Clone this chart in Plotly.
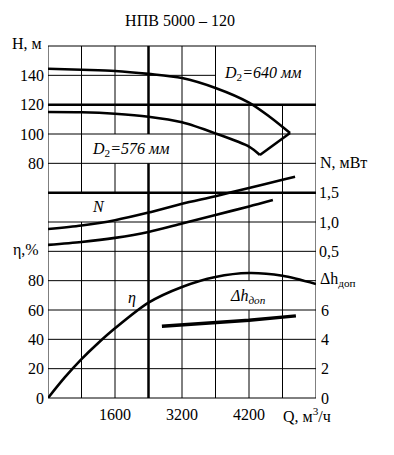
import plotly.graph_objects as go

# ---- data (Q in m3/h) ----
q_h640 = [0, 800, 1600, 2400, 3200, 4000, 4800, 5300, 5780]
h_640 = [144.5, 143.8, 143.0, 141.0, 138.2, 131.4, 121.4, 111.6, 100.7]

q_h576 = [0, 800, 1600, 2400, 3200, 4000, 4800, 5060]
h_576 = [115.0, 114.8, 113.8, 111.8, 108.0, 100.4, 91.4, 85.7]

q_n1 = [0, 800, 1600, 2400, 3200, 4000, 4800, 5600, 5900]
n_1 = [0.88, 0.94, 1.03, 1.16, 1.31, 1.44, 1.58, 1.72, 1.77]

q_n2 = [0, 800, 1600, 2400, 3200, 4000, 4800, 5370]
n_2 = [0.61, 0.66, 0.73, 0.83, 0.975, 1.12, 1.265, 1.375]

q_eta = [0, 400, 800, 1200, 1600, 2400, 3200, 4000, 4800, 5600, 6400]
eta = [0, 14, 26.5, 37.5, 47.5, 65.0, 75.7, 82.5, 85.2, 83.3, 77.7]

q_dh = [2720, 4800, 5920]
dh = [4.9, 5.3, 5.6]

x_tickvals = [1600, 3200, 4800]
x_ticktext = ["1600", "3200", "4200"]
h_ticks = [80, 100, 120, 140]
eta_ticks = [0, 20, 40, 60, 80]
n_ticks = [0.5, 1.0, 1.5]
n_ticktext = ["0,5", "1,0", "1,5"]
dh_ticks = [0, 2, 4, 6]

FONT = "Liberation Serif"
LW = 2.6

fig = go.Figure()
line = dict(color="black", width=LW, shape="spline", smoothing=0.8)
fig.add_trace(go.Scatter(x=q_h640, y=h_640, mode="lines", line=line, yaxis="y"))
fig.add_trace(go.Scatter(x=q_h576, y=h_576, mode="lines", line=line, yaxis="y"))
fig.add_trace(go.Scatter(x=[q_h576[-1], q_h640[-1]], y=[h_576[-1], h_640[-1]],
                         mode="lines", line=dict(color="black", width=LW), yaxis="y"))
fig.add_trace(go.Scatter(x=q_n1, y=n_1, mode="lines", line=line, yaxis="y3"))
fig.add_trace(go.Scatter(x=q_n2, y=n_2, mode="lines", line=line, yaxis="y3"))
fig.add_trace(go.Scatter(x=q_eta, y=eta, mode="lines", line=line, yaxis="y2"))
fig.add_trace(go.Scatter(x=q_dh, y=dh, mode="lines",
                         line=dict(color="black", width=3.5), yaxis="y4"))

# ---- nomogram grid (col = 800 m3/h, row = 1/12 of height) ----
COL = 800
shapes = []
def vseg(c, r0, r1, w=1):
    shapes.append(dict(type="line", xref="x", yref="paper", x0=c * COL, x1=c * COL,
                       y0=r0 / 12, y1=r1 / 12, line=dict(color="black", width=w), layer="below"))
def hseg(r, c0, c1, w=1):
    shapes.append(dict(type="line", xref="x", yref="paper", x0=c0 * COL, x1=c1 * COL,
                       y0=r / 12, y1=r / 12, line=dict(color="black", width=w), layer="below"))

vseg(0, 0, 12)
vseg(1, 0, 6); vseg(1, 7, 12)
vseg(2, 0, 6); vseg(2, 7, 8); vseg(2, 9, 12)
vseg(3, 0, 8, 2.5); vseg(3, 9, 12, 2.5)
vseg(4, 0, 12)
vseg(5, 0, 12)
vseg(6, 0, 3); vseg(6, 4, 10)
vseg(7, 0, 10)
vseg(8, 0, 12)
for r in range(0, 13):
    if r == 11:
        hseg(r, 0, 5)
    elif r in (7, 10):
        hseg(r, 0, 8, 2.5)
    else:
        hseg(r, 0, 8)

tf = dict(family=FONT, size=16, color="black")
ax_common = dict(showgrid=False, zeroline=False, showline=False, ticks="",
                 tickfont=tf, automargin=False)
fig.update_layout(
    template="none",
    width=394, height=455, autosize=False,
    margin=dict(l=48, r=78, t=46, b=57, pad=0),
    paper_bgcolor="white", plot_bgcolor="white",
    showlegend=False,
    shapes=shapes,
    font=dict(family=FONT, size=16, color="black"),
    title=dict(text="НПВ 5000 – 120", x=180 / 394, xref="container", xanchor="center",
               y=1 - 20 / 455, yref="container", yanchor="middle",
               font=dict(family=FONT, size=16, color="black")),
    xaxis=dict(range=[0, 6400], tickvals=x_tickvals, ticktext=x_ticktext,
               ticklabelstandoff=5, **ax_common),
    yaxis=dict(range=[-80, 160], tickvals=h_ticks, side="left",
               ticklabelstandoff=3, **ax_common),
    yaxis2=dict(range=[0, 240], overlaying="y", side="left", tickvals=eta_ticks,
                anchor="x", ticklabelstandoff=3, **ax_common),
    yaxis3=dict(range=[-2, 4], overlaying="y", side="right", tickvals=n_ticks,
                ticktext=n_ticktext, anchor="x", ticklabelstandoff=2, **ax_common),
    yaxis4=dict(range=[0, 24], overlaying="y", side="right", tickvals=dh_ticks,
                anchor="x", ticklabelstandoff=4, **ax_common),
)

ann = [
    dict(text="H, м", x=-0.078, y=1.0085, xanchor="center"),
    dict(text="η,%", x=-0.082, y=0.420, xanchor="center"),
    dict(text="N, мВт", x=1.0075, y=0.670, xanchor="left"),
    dict(text="Δh<sub>доп</sub>", x=1.0075, y=0.337, xanchor="left"),
    dict(text="Q, м<sup>3</sup>/ч", x=0.966, y=-0.048, xanchor="center"),
    dict(text="<i>D</i><sub>2</sub><i>=640 мм</i>", x=0.802, y=0.923, xanchor="center"),
    dict(text="<i>D</i><sub>2</sub><i>=576 мм</i>", x=0.306, y=0.707, xanchor="center"),
    dict(text="<i>N</i>", x=0.190, y=0.543, xanchor="center"),
    dict(text="<i>η</i>", x=0.313, y=0.284, xanchor="center"),
    dict(text="<i>Δh<sub>доп</sub></i>", x=0.746, y=0.287, xanchor="center"),
]
for a in ann:
    a.update(xref="paper", yref="paper", yanchor="middle", showarrow=False,
             font=dict(family=FONT, size=16, color="black"))
fig.update_layout(annotations=ann)

fig.write_html("out.html", config={"displayModeBar": False, "staticPlot": True},
               post_script="document.body.style.margin='0';document.body.style.padding='0';")
